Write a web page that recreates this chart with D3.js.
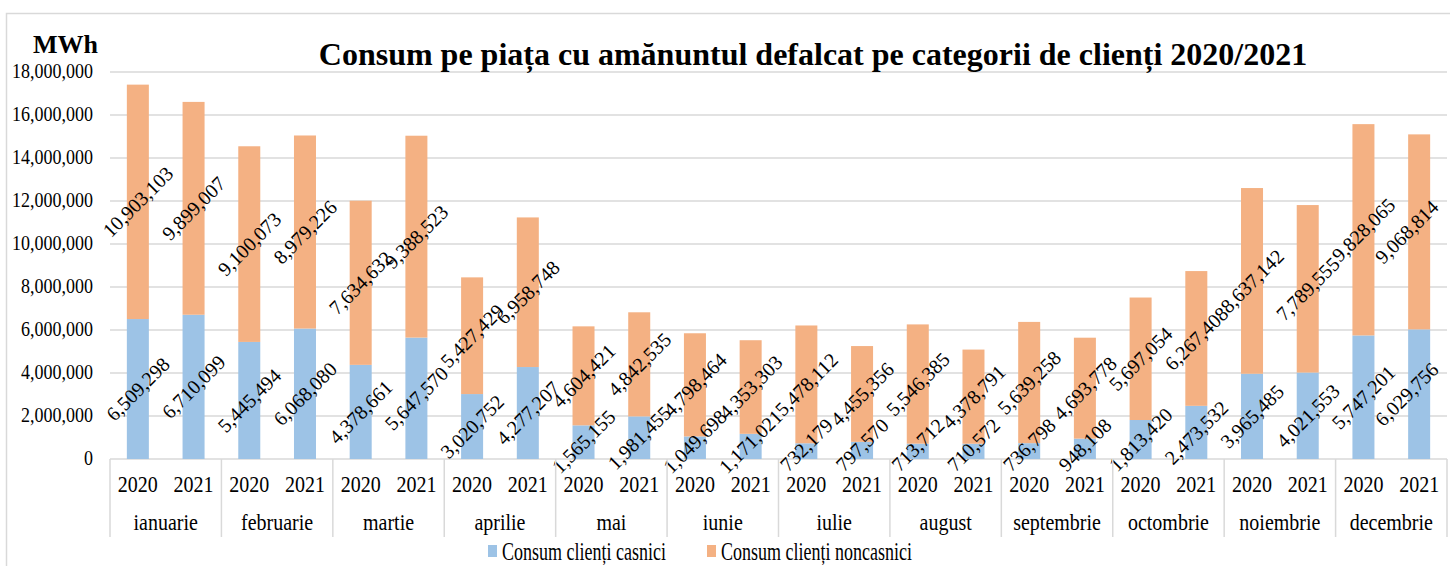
<!DOCTYPE html>
<html>
<head>
<meta charset="utf-8">
<script src="https://cdn.jsdelivr.net/npm/d3@7"></script>
<style>
	body { margin: 0; background: #fff; }
	svg text { font-family: "Liberation Serif", "Times New Roman", serif; fill: #000; }
</style>
</head>
<body>
<div id="chart"></div>
<script>
// data
var months = ["ianuarie", "februarie", "martie", "aprilie", "mai", "iunie", "iulie", "august", "septembrie", "octombrie", "noiembrie", "decembrie"];
var years = ["2020", "2021"];
var casnici2020 = [6509298, 5445494, 4378661, 3020752, 1565155, 1049698, 732179, 713712, 736798, 1813420, 3965485, 5747201];
var casnici2021 = [6710099, 6068080, 5647570, 4277207, 1981455, 1171021, 797570, 710572, 948108, 2473532, 4021553, 6029756];
var noncasnici2020 = [10903103, 9100073, 7634632, 5427429, 4604421, 4798464, 5478112, 5546385, 5639258, 5697054, 8637142, 9828065];
var noncasnici2021 = [9899007, 8979226, 9388523, 6958748, 4842535, 4353303, 4455356, 4378791, 4693778, 6267408, 7789555, 9068814];
var yTicks = [0, 2000000, 4000000, 6000000, 8000000, 10000000, 12000000, 14000000, 16000000, 18000000];
var seriesNames = ["Consum clienți casnici", "Consum clienți noncasnici"];
var colors = ["#9dc3e6", "#f4b183"];

var width = 1450, height = 566;
var margin = { left: 110, right: 3, top: 72, bottom: 107 };

var rows = [];
months.forEach(function(m, i) {
	rows.push({ month: m, year: "2020", casnici: casnici2020[i], noncasnici: noncasnici2020[i] });
	rows.push({ month: m, year: "2021", casnici: casnici2021[i], noncasnici: noncasnici2021[i] });
});

var svg = d3.select("#chart").append("svg")
	.attr("width", width)
	.attr("height", height);

// outer frame
svg.append("rect")
	.attr("x", 6.5).attr("y", 13.5)
	.attr("width", width).attr("height", height)
	.attr("fill", "none").attr("stroke", "#d9d9d9").attr("stroke-width", 1.5);

var x0 = d3.scaleBand().domain(months).range([margin.left, width - margin.right]).padding(0);
var x1 = d3.scaleBand().domain(years).range([0, x0.bandwidth()]).paddingInner(0.605).paddingOuter(0.3025);
var y = d3.scaleLinear().domain([0, 18000000]).range([height - margin.bottom, margin.top]);

// the text in the picture is a little taller than it is wide
function stretchedText(sel, tx, ty, k) {
	return sel.attr("transform", "translate(" + tx + "," + ty + ") scale(1," + k + ")");
}

// grid
svg.append("g").selectAll("line")
	.data(yTicks)
	.join("line")
	.attr("x1", margin.left).attr("x2", width - margin.right)
	.attr("y1", function(d) { return y(d); }).attr("y2", function(d) { return y(d); })
	.attr("stroke", "#d9d9d9").attr("stroke-width", 1.5);

// y axis labels
var fmt = d3.format(",");
svg.append("g").selectAll("text")
	.data(yTicks)
	.join("text")
	.each(function(d) { stretchedText(d3.select(this), 93, y(d) + 5.5, 1.2); })
	.attr("text-anchor", "end")
	.style("font-size", "18px")
	.text(function(d) { return fmt(d); });

// stacked bars
var stack = d3.stack().keys(["casnici", "noncasnici"]);
var layers = stack(rows);

var bars = svg.append("g");
layers.forEach(function(layer, li) {
	bars.append("g").selectAll("rect")
		.data(layer)
		.join("rect")
		.attr("x", function(d) { return x0(d.data.month) + x1(d.data.year); })
		.attr("width", x1.bandwidth())
		.attr("y", function(d) { return y(d[1]); })
		.attr("height", function(d) { return y(d[0]) - y(d[1]); })
		.attr("fill", colors[li]);
});

// data labels, rotated, kept inside the plot
var labelSize = 20;
var labels = svg.append("g");
layers.forEach(function(layer) {
	labels.append("g").selectAll("text")
		.data(layer)
		.join("text")
		.attr("text-anchor", "middle")
		.attr("dy", "0.35em")
		.style("font-size", labelSize + "px")
		.text(function(d) { return fmt(d[1] - d[0]); })
		.attr("transform", function(d) {
			var len = this.getComputedTextLength();
			var half = (len + labelSize) * 0.707 / 2;
			var cx = x0(d.data.month) + x1(d.data.year) + x1.bandwidth() / 2;
			cx = Math.min(cx, width - 8 - half);
			var cy = Math.min(y((d[0] + d[1]) / 2), y(0) - len * 0.22);
			return "translate(" + cx + "," + cy + ") rotate(-45)";
		});
});

// category axis
var axisY = y(0);
svg.append("g").selectAll("line")
	.data(d3.range(months.length + 1))
	.join("line")
	.attr("x1", function(i) { return margin.left + i * x0.step(); })
	.attr("x2", function(i) { return margin.left + i * x0.step(); })
	.attr("y1", axisY).attr("y2", 537)
	.attr("stroke", "#d9d9d9").attr("stroke-width", 1.5);

svg.append("g").selectAll("text")
	.data(rows)
	.join("text")
	.each(function(d) {
		stretchedText(d3.select(this), x0(d.month) + x1(d.year) + x1.bandwidth() / 2, 492, 1.15);
	})
	.attr("text-anchor", "middle")
	.style("font-size", "20px")
	.text(function(d) { return d.year; });

svg.append("g").selectAll("text")
	.data(months)
	.join("text")
	.each(function(d) { stretchedText(d3.select(this), x0(d) + x0.bandwidth() / 2, 530, 1.15); })
	.attr("text-anchor", "middle")
	.style("font-size", "20px")
	.text(function(d) { return d; });

// titles
svg.append("text")
	.attr("x", 813).attr("y", 65)
	.attr("text-anchor", "middle")
	.style("font-size", "32px")
	.style("font-weight", "bold")
	.text("Consum pe piața cu amănuntul defalcat pe categorii de clienți 2020/2021");

svg.append("text")
	.attr("x", 33).attr("y", 53)
	.style("font-size", "26px")
	.style("font-weight", "bold")
	.text("MWh");

// legend
var legendX = [488, 707];
var legend = svg.append("g");
seriesNames.forEach(function(name, i) {
	legend.append("rect")
		.attr("x", legendX[i]).attr("y", 545)
		.attr("width", 9).attr("height", 12)
		.attr("fill", colors[i]);
	stretchedText(legend.append("text"), legendX[i] + 14, 560, 1.35)
		.style("font-size", "18px")
		.text(name);
});
</script>
</body>
</html>
